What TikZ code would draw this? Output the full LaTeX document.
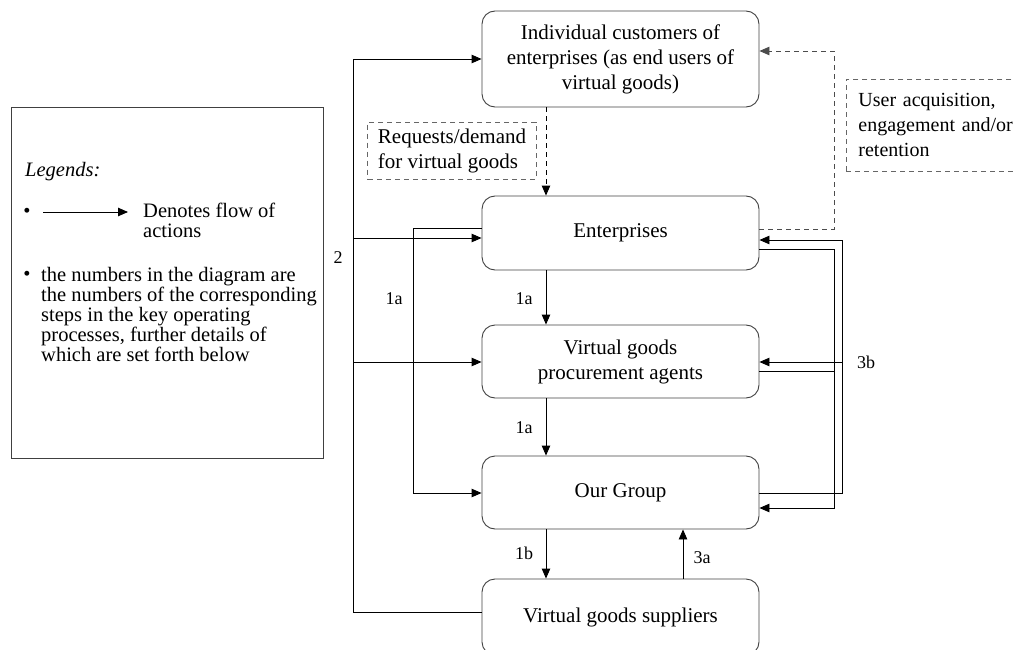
\documentclass[tikz,border=0pt]{standalone}
\usepackage{fontspec}
\setmainfont{Liberation Serif}
\usetikzlibrary{arrows.meta}
\begin{document}
\begin{tikzpicture}[x=1pt,y=-1pt,
  box/.style={draw=black!75, line width=0.9pt, rounded corners=13pt, minimum width=277pt, align=center, inner sep=0pt, font=\fontsize{21}{25}\selectfont},
  arr/.style={-{Triangle[length=10pt,width=8.5pt]}, line width=0.9pt},
  ln/.style={line width=0.9pt},
  darr/.style={arr, dash pattern=on 5pt off 4pt},
  dbox/.style={draw=black!60, dash pattern=on 5pt off 4pt, line width=0.9pt, align=left, font=\fontsize{21}{25}\selectfont},
  lbl/.style={font=\fontsize{18}{20}\selectfont, inner sep=0pt},
  legf/.style={inner sep=0pt, font=\fontsize{20.5}{20}\selectfont},
]
\useasboundingbox (0,0) rectangle (1015,650);

% legend
\node[draw=black!75, line width=0.9pt, minimum width=312pt, minimum height=351pt, inner sep=0pt] (leg) at (167,282.5) {};
\node[legf, anchor=base west, font=\fontsize{20.5}{20}\selectfont\itshape] (legt) at (25,177) {Legends:};
\node[legf] (b1) at (27,213) {•};
\coordinate (la1) at (43,212);
\coordinate (la2) at (128,212);
\draw[arr] (la1) -- (la2);
\node[legf, anchor=north west, align=left] (d1) at (143,203) {Denotes flow of\\actions};
\node[legf] (b2) at (27,276) {•};
\node[legf, anchor=north west, align=left] (d2) at (41,267) {the numbers in the diagram are\\the numbers of the corresponding\\steps in the key operating\\processes, further details of\\which are set forth below};

% boxes
\node[box, minimum height=96pt] (cust) at (620.5,59) {Individual customers of\\enterprises (as end users of\\virtual goods)};
\node[box, minimum height=74pt] (ent) at (620.5,233) {Enterprises};
\node[box, minimum height=73pt] (agt) at (620.5,361.5) {Virtual goods\\procurement agents};
\node[box, minimum height=73pt] (grp) at (620.5,492.5) {Our Group};
\node[box, minimum height=76pt] (sup) at (620.5,617) {Virtual goods suppliers};

% dashed notes
\node[dbox, minimum width=168pt, minimum height=57pt, inner xsep=10pt] (req) at (452,150.5) {Requests/demand\\for virtual goods};
\node[dbox, anchor=north west, text width=170pt, minimum height=92pt, inner xsep=12pt, font=\fontsize{20}{25}\selectfont] (ua) at (846,79) {User acquisition,\\engagement and/or\\retention};

% labels
\node[lbl] (l2) at (338,258) {2};
\node[lbl] (l1a1) at (394,299) {1a};
\node[lbl] (l1a2) at (524,299) {1a};
\node[lbl] (l1a3) at (524,428) {1a};
\node[lbl] (l1b) at (524,553) {1b};
\node[lbl] (l3a) at (702,558) {3a};
\node[lbl] (l3b) at (866,362) {3b};

% line 2
\coordinate (c2t) at (353,59);
\coordinate (c2b) at (353,612);
\draw[arr] (sup.west |- c2b) -- (c2b) -- (c2t) -- (cust.west |- c2t);
\coordinate (c2e) at (353,238);
\draw[arr] (c2e) -- (ent.west |- c2e);
\coordinate (c2a) at (353,362);
\draw[arr] (c2a) -- (agt.west |- c2a);

% left 1a
\coordinate (c1t) at (413,228);
\coordinate (c1b) at (413,493);
\draw[arr] (ent.west |- c1t) -- (c1t) -- (c1b) -- (grp.west |- c1b);

% vertical arrows
\coordinate (vx) at (546,0);
\draw[darr] (cust.south -| vx) -- (ent.north -| vx);
\draw[arr] (ent.south -| vx) -- (agt.north -| vx);
\draw[arr] (agt.south -| vx) -- (grp.north -| vx);
\draw[arr] (grp.south -| vx) -- (sup.north -| vx);
\coordinate (v3) at (683,0);
\draw[arr] (sup.north -| v3) -- (grp.south -| v3);

% right inner
\coordinate (ri1) at (834,249);
\coordinate (ri2) at (834,508);
\draw[arr] (ent.east |- ri1) -- (ri1) -- (ri2) -- (grp.east |- ri2);
\coordinate (ri3) at (834,371);
\draw[ln] (agt.east |- ri3) -- (ri3);

% right outer
\coordinate (ro1) at (842,493);
\coordinate (ro2) at (842,240);
\draw[arr] (grp.east |- ro1) -- (ro1) -- (ro2) -- (ent.east |- ro2);
\coordinate (ro3) at (842,362);
\draw[arr] (ro3) -- (agt.east |- ro3);

% dashed feedback
\coordinate (dd1) at (834,229);
\coordinate (dd2) at (834,51);
\draw[darr, draw=black!70] (ent.east |- dd1) -- (dd1) -- (dd2) -- (cust.east |- dd2);
\end{tikzpicture}
\end{document}
